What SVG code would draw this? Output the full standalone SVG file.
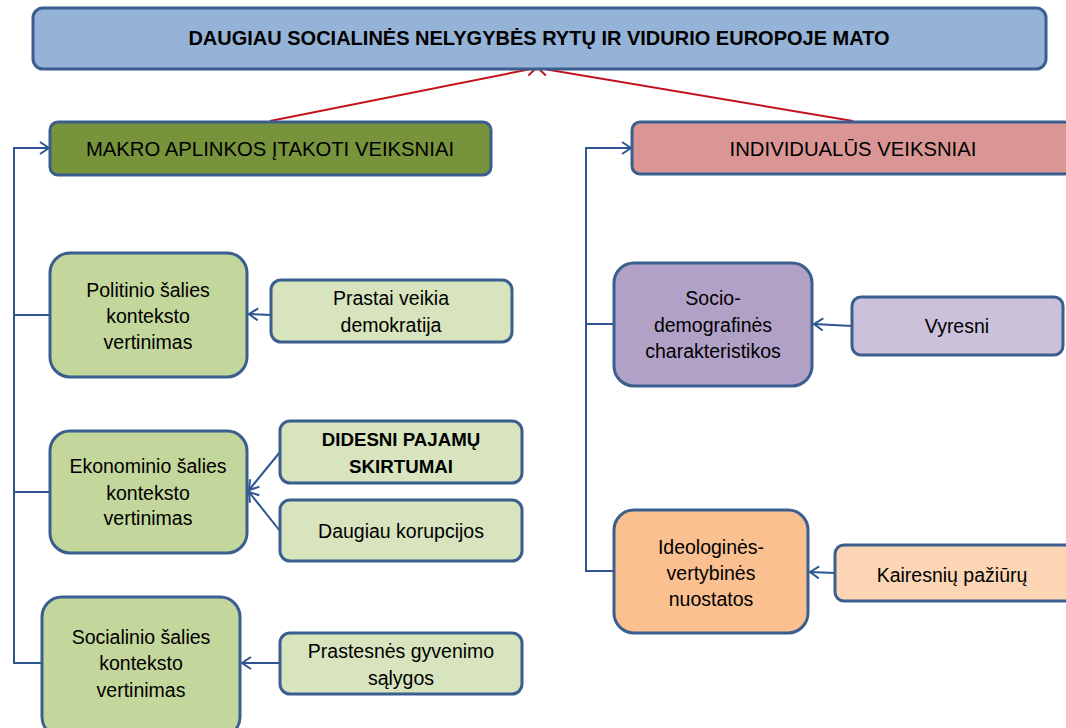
<svg xmlns="http://www.w3.org/2000/svg" width="1066" height="728" viewBox="0 0 1066 728">
<defs>
<style>
.box{stroke:#3a5f8e;stroke-width:3}
.t{font-family:"Liberation Sans",Arial,sans-serif;font-size:19.5px;fill:#000;text-anchor:middle}
.b{font-weight:bold;font-size:18.7px}
.h{font-size:20.3px}
.con{fill:none;stroke:#2e5590;stroke-width:2}
.red{fill:none;stroke:#c0141c;stroke-width:2}
</style>
<marker id="ab" markerUnits="userSpaceOnUse" markerWidth="14" markerHeight="14" refX="11" refY="7" orient="auto">
<path d="M2,1 L11,7 L2,13" fill="none" stroke="#2e5590" stroke-width="2"/>
</marker>
<marker id="ar" markerUnits="userSpaceOnUse" markerWidth="14" markerHeight="14" refX="11" refY="7" orient="auto">
<path d="M2,1 L11,7 L2,13" fill="none" stroke="#c0141c" stroke-width="2"/>
</marker>
</defs>
<rect width="1066" height="728" fill="#fff"/>
<g id="connectors">
<line class="red" x1="270" y1="121" x2="536" y2="68" marker-end="url(#ar)"/>
<line class="red" x1="853" y1="121" x2="538" y2="68" marker-end="url(#ar)"/>
<polyline class="con" points="42,663 14,663 14,148 49,148" marker-end="url(#ab)"/>
<line class="con" x1="14" y1="315" x2="50" y2="315"/>
<line class="con" x1="14" y1="492" x2="50" y2="492"/>
<line class="con" x1="271" y1="315" x2="249" y2="314" marker-end="url(#ab)"/>
<line class="con" x1="280" y1="452" x2="249" y2="490" marker-end="url(#ab)"/>
<line class="con" x1="280" y1="531" x2="249" y2="492" marker-end="url(#ab)"/>
<line class="con" x1="280" y1="663" x2="242" y2="663" marker-end="url(#ab)"/>
<polyline class="con" points="614,571 586,571 586,148 631,148" marker-end="url(#ab)"/>
<line class="con" x1="586" y1="324" x2="614" y2="324"/>
<line class="con" x1="852" y1="326" x2="814" y2="324" marker-end="url(#ab)"/>
<line class="con" x1="835" y1="573" x2="810" y2="572" marker-end="url(#ab)"/>
</g>
<g id="title">
<rect class="box" x="33" y="8" width="1013" height="61" rx="10" fill="#95b3d7"/>
<text class="t b" x="539" y="45" style="font-size:20px">DAUGIAU SOCIALINĖS NELYGYBĖS RYTŲ IR VIDURIO EUROPOJE MATO</text>
</g>
<g id="makro">
<rect class="box" x="50" y="122" width="441" height="53" rx="8" fill="#77933c"/>
<text class="t h" x="270" y="156">MAKRO APLINKOS ĮTAKOTI VEIKSNIAI</text>
</g>
<g id="individual">
<rect class="box" x="632" y="122" width="440" height="52" rx="8" fill="#d99694"/>
<text class="t h" x="853" y="156">INDIVIDUALŪS VEIKSNIAI</text>
</g>
<g id="politinio">
<rect class="box" x="50" y="253" width="197" height="124" rx="20" fill="#c3d69b"/>
<text class="t" x="148" y="297">Politinio šalies</text>
<text class="t" x="148" y="323">konteksto</text>
<text class="t" x="148" y="349">vertinimas</text>
</g>
<g id="prastai">
<rect class="box" x="271" y="280" width="241" height="62" rx="10" fill="#d7e4bd"/>
<text class="t" x="391" y="305">Prastai veikia</text>
<text class="t" x="391" y="332">demokratija</text>
</g>
<g id="ekonominio">
<rect class="box" x="50" y="431" width="197" height="122" rx="20" fill="#c3d69b"/>
<text class="t" x="148" y="473">Ekonominio šalies</text>
<text class="t" x="148" y="500">konteksto</text>
<text class="t" x="148" y="525">vertinimas</text>
</g>
<g id="didesni">
<rect class="box" x="280" y="421" width="242" height="62" rx="10" fill="#d7e4bd"/>
<text class="t b" x="401" y="446">DIDESNI PAJAMŲ</text>
<text class="t b" x="401" y="473">SKIRTUMAI</text>
</g>
<g id="korupcija">
<rect class="box" x="280" y="500" width="242" height="61" rx="10" fill="#d7e4bd"/>
<text class="t" x="401" y="538">Daugiau korupcijos</text>
</g>
<g id="socialinio">
<rect class="box" x="42" y="597" width="198" height="140" rx="20" fill="#c3d69b"/>
<text class="t" x="141" y="644">Socialinio šalies</text>
<text class="t" x="141" y="670">konteksto</text>
<text class="t" x="141" y="697">vertinimas</text>
</g>
<g id="prastesnes">
<rect class="box" x="280" y="633" width="242" height="61" rx="10" fill="#d7e4bd"/>
<text class="t" x="401" y="658">Prastesnės gyvenimo</text>
<text class="t" x="401" y="685">sąlygos</text>
</g>
<g id="socio">
<rect class="box" x="614" y="263" width="198" height="123" rx="20" fill="#b2a1c7"/>
<text class="t" x="713" y="305">Socio-</text>
<text class="t" x="713" y="332">demografinės</text>
<text class="t" x="713" y="358">charakteristikos</text>
</g>
<g id="vyresni">
<rect class="box" x="852" y="297" width="211" height="58" rx="9" fill="#ccc1da"/>
<text class="t" x="957" y="333">Vyresni</text>
</g>
<g id="ideologines">
<rect class="box" x="614" y="510" width="194" height="123" rx="20" fill="#fac090"/>
<text class="t" x="711" y="554">Ideologinės-</text>
<text class="t" x="711" y="580">vertybinės</text>
<text class="t" x="711" y="606">nuostatos</text>
</g>
<g id="kairesniu">
<rect class="box" x="835" y="545" width="240" height="56" rx="9" fill="#fcd5b5"/>
<text class="t" x="952" y="582">Kairesnių pažiūrų</text>
</g>
</svg>
